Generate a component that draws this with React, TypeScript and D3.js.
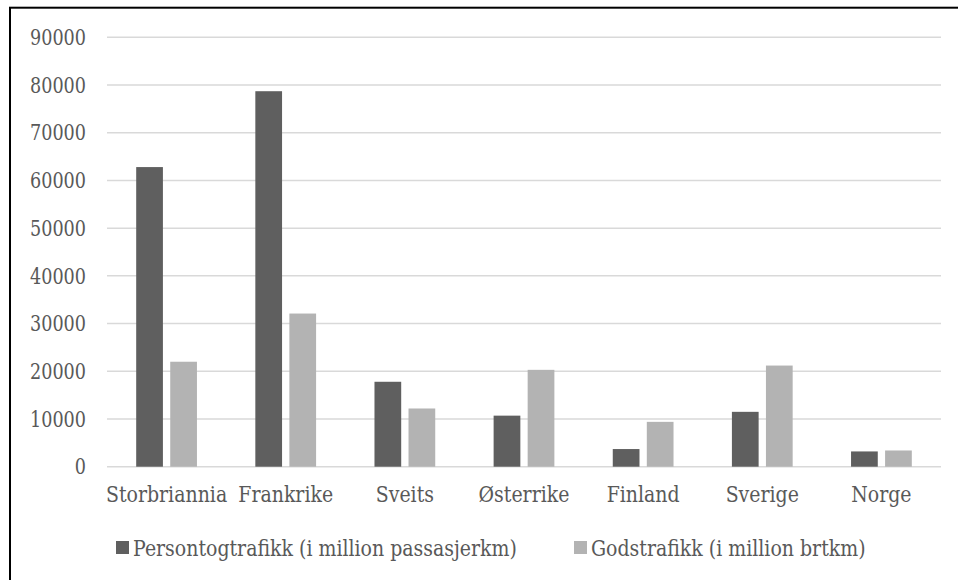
import { useEffect, useRef } from 'react';
import * as d3 from 'd3';

const countries = ['Storbriannia', 'Frankrike', 'Sveits', 'Østerrike', 'Finland', 'Sverige', 'Norge'];
const personTraffic = [62800, 78700, 17800, 10700, 3700, 11500, 3200];
const freightTraffic = [22000, 32100, 12200, 20300, 9400, 21200, 3400];
const seriesNames = ['Persontogtrafikk (i million passasjerkm)', 'Godstrafikk (i million brtkm)'];
const seriesColors = ['#5f5f5f', '#b3b3b3'];
const yTicks = [0, 10000, 20000, 30000, 40000, 50000, 60000, 70000, 80000, 90000];

const W = 958;
const H = 580;
// only DejaVu Serif is available as a serif face; squeeze it to Times-like widths
const DIGIT_RATIO = 0.8;
const WORD_RATIO = 0.86;

export default function App() {
  const svgRef = useRef<SVGSVGElement>(null);

  useEffect(() => {
    if (!svgRef.current) return;
    const svg = d3.select(svgRef.current);
    svg.selectAll('*').remove();

    const textColor = '#595959';
    const left = 107, right = 941, top = 37.3, bottom = 466.7;

    const squeeze = (sel: d3.Selection<SVGTextElement, any, any, any>, ratio: number) => {
      sel.each(function () {
        const w = this.getComputedTextLength();
        this.setAttribute('textLength', String(w * ratio));
        this.setAttribute('lengthAdjust', 'spacingAndGlyphs');
      });
    };

    // frame (right and bottom edges fall outside the picture)
    svg.append('rect').attr('x', 10).attr('y', 7.7).attr('width', 1000).attr('height', 1000)
      .attr('fill', 'none').attr('stroke', '#000').attr('stroke-width', 2);

    const y = d3.scaleLinear([0, 90000], [bottom, top]);
    const x0 = d3.scaleBand(countries, [left, right]).paddingInner(0.49).paddingOuter(0.245);
    const x1 = d3.scaleBand([0, 1], [0, x0.bandwidth()]).paddingInner(0.215);

    // gridlines
    svg.append('g').selectAll('line').data(yTicks).join('line')
      .attr('x1', left).attr('x2', right)
      .attr('y1', d => y(d)).attr('y2', d => y(d))
      .attr('stroke', '#d9d9d9').attr('stroke-width', 1.5);

    // y labels
    const yl = svg.append('g').selectAll<SVGTextElement, number>('text').data(yTicks).join('text')
      .attr('x', 86).attr('y', d => y(d)).attr('dy', '0.35em')
      .attr('text-anchor', 'end').attr('font-size', 22)
      .attr('fill', textColor).text(d => String(d));
    squeeze(yl, DIGIT_RATIO);

    // bars
    const series = [personTraffic, freightTraffic];
    series.forEach((vals, si) => {
      svg.append('g').selectAll('rect').data(vals).join('rect')
        .attr('x', (_, i) => (x0(countries[i]) ?? 0) + (x1(si) ?? 0))
        .attr('y', d => y(d))
        .attr('width', x1.bandwidth())
        .attr('height', d => y(0) - y(d))
        .attr('fill', seriesColors[si]);
    });

    // category labels
    const cl = svg.append('g').selectAll<SVGTextElement, string>('text').data(countries).join('text')
      .attr('x', d => (x0(d) ?? 0) + x0.bandwidth() / 2).attr('y', 502)
      .attr('text-anchor', 'middle').attr('font-size', 22)
      .attr('fill', textColor).text(d => d);
    squeeze(cl, WORD_RATIO);

    // legend
    const legendX = [116, 574];
    seriesNames.forEach((name, i) => {
      svg.append('rect').attr('x', legendX[i]).attr('y', 541).attr('width', 13).attr('height', 13)
        .attr('fill', seriesColors[i]);
      const t = svg.append('text').attr('x', legendX[i] + 17).attr('y', 556)
        .attr('font-size', 22).attr('fill', textColor).text(name);
      squeeze(t as any, WORD_RATIO);
    });
  }, []);

  return (
    <svg ref={svgRef} width={W} height={H}
      style={{ position: 'absolute', left: 0, top: 0, background: '#fff', fontFamily: "'DejaVu Serif', serif" }} />
  );
}
